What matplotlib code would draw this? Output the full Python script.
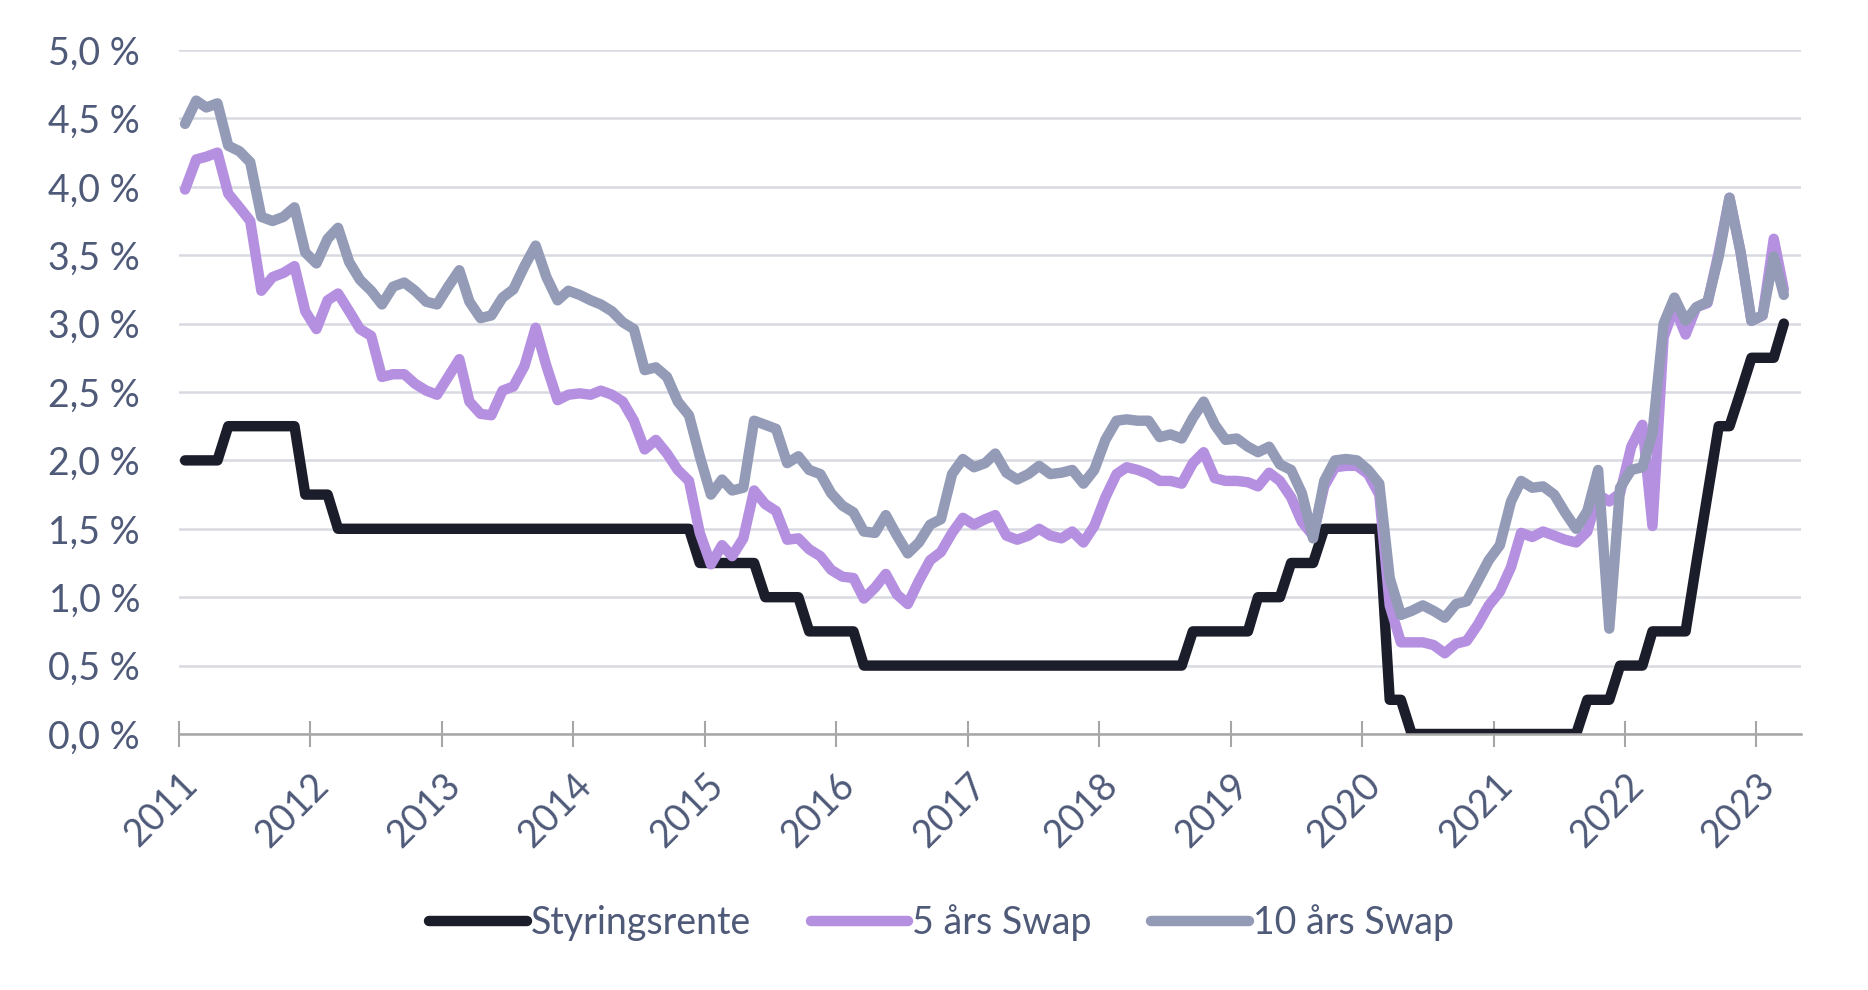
import numpy as np
import pandas as pd
import matplotlib
matplotlib.use("Agg")
import matplotlib.pyplot as plt
import matplotlib.dates as mdates
from matplotlib.ticker import FuncFormatter, MultipleLocator

# månedlige observasjoner jan 2011 - mar 2023
dates = pd.date_range("2011-01-01", "2023-03-01", freq="MS") + pd.Timedelta(days=17)

styringsrente = (
    [2.0] * 4 + [2.25] * 7 + [1.75]            # 2011
    + [1.75] * 2 + [1.5] * 10                  # 2012
    + [1.5] * 12                               # 2013
    + [1.5] * 11 + [1.25]                      # 2014
    + [1.25] * 5 + [1.0] * 4 + [0.75] * 3      # 2015
    + [0.75] * 2 + [0.5] * 10                  # 2016
    + [0.5] * 12                               # 2017
    + [0.5] * 8 + [0.75] * 4                   # 2018
    + [0.75] * 2 + [1.0] * 3 + [1.25] * 3 + [1.5] * 4   # 2019
    + [1.5] * 2 + [0.25] * 2 + [0.0] * 8       # 2020
    + [0.0] * 8 + [0.25] * 3 + [0.5]           # 2021
    + [0.5] * 2 + [0.75] * 4 + [1.25, 1.75, 2.25, 2.25, 2.5, 2.75]  # 2022
    + [2.75, 2.75, 3.0]                        # 2023
)

swap_5 = [
    3.98, 4.20, 4.22, 4.25, 3.95, 3.85, 3.75, 3.24, 3.34, 3.37, 3.42, 3.09,
    2.96, 3.17, 3.22, 3.09, 2.96, 2.91, 2.61, 2.63, 2.63, 2.56, 2.51, 2.48,
    2.61, 2.74, 2.43, 2.34, 2.33, 2.51, 2.54, 2.69, 2.97, 2.69, 2.44, 2.48,
    2.49, 2.48, 2.51, 2.48, 2.43, 2.29, 2.08, 2.15, 2.05, 1.93, 1.85, 1.47,
    1.24, 1.38, 1.30, 1.43, 1.78, 1.68, 1.63, 1.42, 1.43, 1.35, 1.30, 1.20,
    1.15, 1.14, 0.99, 1.07, 1.17, 1.02, 0.95, 1.12, 1.27, 1.33, 1.47, 1.58,
    1.53, 1.57, 1.60, 1.45, 1.42, 1.45, 1.50, 1.45, 1.43, 1.48, 1.40, 1.52,
    1.73, 1.90, 1.95, 1.93, 1.90, 1.85, 1.85, 1.83, 1.98, 2.06, 1.87, 1.85,
    1.85, 1.84, 1.81, 1.91, 1.85, 1.73, 1.55, 1.45, 1.81, 1.95, 1.96, 1.96,
    1.90, 1.75, 0.94, 0.67, 0.67, 0.67, 0.65, 0.59, 0.66, 0.68, 0.80, 0.94,
    1.04, 1.22, 1.47, 1.44, 1.48, 1.45, 1.42, 1.40, 1.48, 1.75, 1.70, 1.76,
    2.10, 2.26, 1.52, 2.90, 3.12, 2.92, 3.12, 3.15, 3.52, 3.92, 3.52, 3.02,
    3.06, 3.62, 3.25,
]

swap_10 = [
    4.46, 4.63, 4.58, 4.61, 4.30, 4.26, 4.18, 3.78, 3.75, 3.78, 3.85, 3.52,
    3.44, 3.62, 3.70, 3.45, 3.32, 3.24, 3.14, 3.27, 3.30, 3.24, 3.16, 3.14,
    3.27, 3.39, 3.16, 3.04, 3.06, 3.19, 3.25, 3.42, 3.57, 3.34, 3.17, 3.24,
    3.21, 3.17, 3.14, 3.09, 3.01, 2.96, 2.66, 2.68, 2.61, 2.43, 2.33, 2.03,
    1.75, 1.86, 1.78, 1.80, 2.29, 2.26, 2.23, 1.98, 2.03, 1.93, 1.90, 1.76,
    1.67, 1.62, 1.48, 1.47, 1.60, 1.45, 1.32, 1.40, 1.53, 1.57, 1.90, 2.01,
    1.95, 1.98, 2.05, 1.91, 1.86, 1.90, 1.96, 1.90, 1.91, 1.93, 1.83, 1.93,
    2.15, 2.29, 2.30, 2.29, 2.29, 2.17, 2.19, 2.16, 2.31, 2.43, 2.26, 2.15,
    2.16, 2.10, 2.06, 2.10, 1.97, 1.93, 1.76, 1.43, 1.85, 2.00, 2.01, 2.00,
    1.93, 1.83, 1.14, 0.87, 0.90, 0.94, 0.90, 0.85, 0.95, 0.97, 1.12, 1.27,
    1.38, 1.70, 1.85, 1.80, 1.81, 1.75, 1.62, 1.50, 1.63, 1.93, 0.77, 1.80,
    1.93, 1.95, 2.20, 3.00, 3.19, 3.02, 3.12, 3.16, 3.49, 3.92, 3.52, 3.02,
    3.06, 3.49, 3.21,
]

series = [
    ("Styringsrente", styringsrente, "#1c1d2a"),
    ("5 års Swap", swap_5, "#b590e0"),
    ("10 års Swap", swap_10, "#939bb7"),
]

plt.rcParams["font.family"] = ["Lato", "DejaVu Sans"]
text_color = "#4f5a79"

fig = plt.figure(figsize=(18.68, 9.9), dpi=100)
ax = fig.add_axes([0.0958, 0.2586, 0.8682, 0.6909])

for name, vals, col in series:
    ax.plot(dates, vals, color=col, lw=7.5, label=name,
            solid_capstyle="round", solid_joinstyle="round")

ax.set_ylim(0, 5)
ax.set_xlim(pd.Timestamp("2011-01-01"), pd.Timestamp("2023-05-04"))

ax.yaxis.set_major_locator(MultipleLocator(0.5))
ax.yaxis.set_major_formatter(FuncFormatter(lambda v, p: f"{v:.1f} %".replace(".", ",")))
ax.yaxis.grid(True, color="#d9d9e2", lw=1.8)
ax.set_axisbelow(True)

ax.xaxis.set_major_locator(mdates.YearLocator())
ax.xaxis.set_major_formatter(mdates.DateFormatter("%Y"))

for s in ["top", "right", "left"]:
    ax.spines[s].set_visible(False)
ax.spines["bottom"].set_color("#a6a6a6")
ax.spines["bottom"].set_linewidth(1.8)

ax.tick_params(axis="y", length=0, pad=28, labelsize=27, labelcolor=text_color)
ax.tick_params(axis="x", direction="inout", length=19, width=1.5, color="#a6a6a6",
               pad=14, labelsize=27, labelcolor=text_color)
for lbl in ax.get_xticklabels():
    lbl.set_rotation(45)
    lbl.set_ha("right")
    lbl.set_va("top")
    lbl.set_rotation_mode("anchor")

leg = fig.legend(loc="center", bbox_to_anchor=(0.504, 0.0677), ncol=3, frameon=False,
                 fontsize=27, handlelength=2.6, handletextpad=0.1, columnspacing=1.6)
for t in leg.get_texts():
    t.set_color(text_color)

fig.savefig("out.png", dpi=100)
